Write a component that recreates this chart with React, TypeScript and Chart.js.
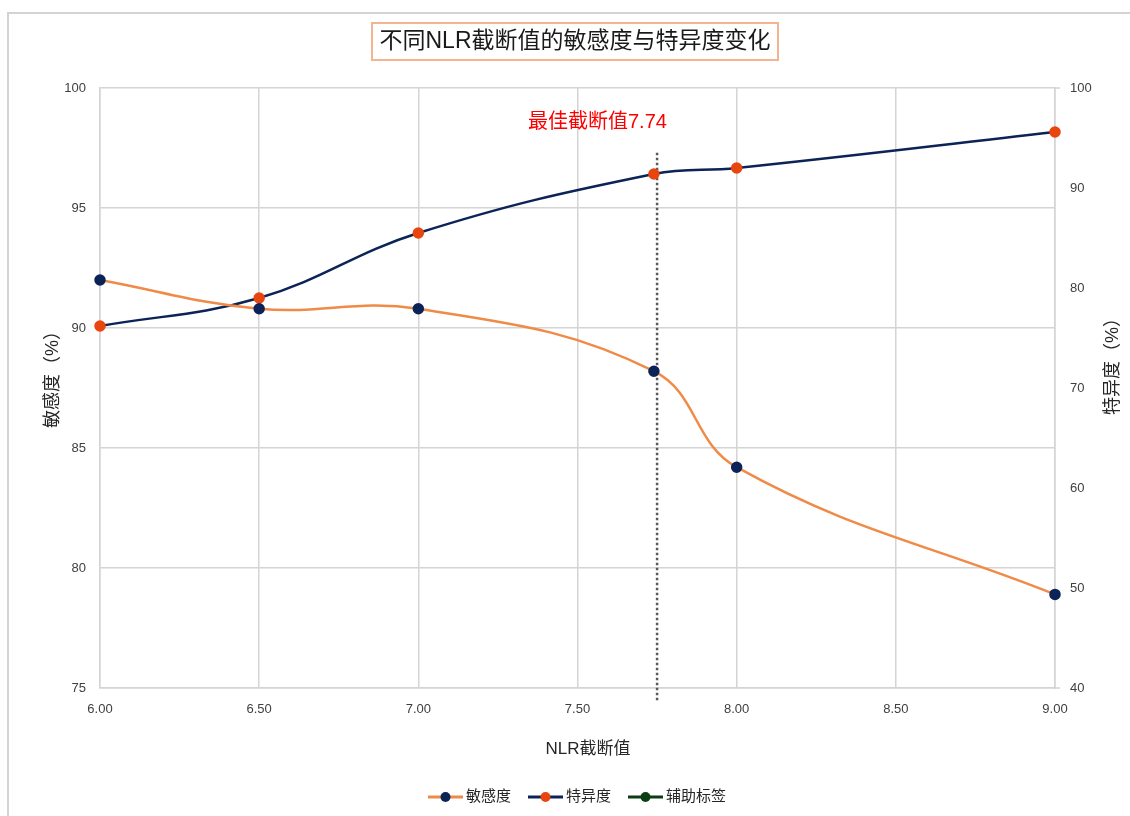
import React, { useEffect, useRef } from "react";
import { Chart, registerables } from "chart.js";

Chart.register(...registerables);

const titleText = "不同NLR截断值的敏感度与特异度变化";
const xAxisTitle = "NLR截断值";
const yAxisTitle = "敏感度（%）";
const y1AxisTitle = "特异度（%）";
const bestLabel = "最佳截断值7.74";

const nlrCutoffs = [6.0, 6.5, 7.0, 7.74, 8.0, 9.0];
const sensitivity = [92.0, 90.8, 90.8, 88.2, 84.2, 78.9];
const specificity = [76.2, 79.0, 85.5, 91.4, 92.0, 95.6];
const auxX = [7.75, 7.75];
const auxY = [97.3, 74.4];
const seriesNames = ["敏感度", "特异度", "辅助标签"];

const FONT = '"Liberation Sans", "Noto Sans CJK SC", sans-serif';
const ORANGE = "#ef8a47";
const NAVY = "#0c2357";
const RED_PT = "#e8460e";
const GREEN = "#0b3d12";
const GRID = "#d4d4d4";

export default function App() {
  const ref = useRef<HTMLCanvasElement | null>(null);

  useEffect(() => {
    document.body.style.margin = "0";
    const canvas = ref.current;
    if (!canvas) return;

    const decor = {
      id: "decor",
      beforeDraw(chart: any) {
        const c = chart.ctx;
        c.save();
        c.fillStyle = "#ffffff";
        c.fillRect(0, 0, chart.width, chart.height);
        c.restore();
      },
      afterDraw(chart: any) {
        const c = chart.ctx;
        const ca = chart.chartArea;
        c.save();
        // outer frame
        c.strokeStyle = "#d3d3d3";
        c.lineWidth = 2;
        c.beginPath();
        c.moveTo(8, 820);
        c.lineTo(8, 13);
        c.lineTo(1135, 13);
        c.stroke();

        // title box
        c.font = `23px ${FONT}`;
        c.fillStyle = "#1a1a1a";
        c.textAlign = "center";
        c.textBaseline = "middle";
        c.fillText(titleText, 575, 42);
        c.strokeStyle = "#f3b590";
        c.lineWidth = 2;
        c.strokeRect(372, 23, 406, 37);

        // best cutoff label
        c.font = `20px ${FONT}`;
        c.fillStyle = "#ff0000";
        c.textAlign = "left";
        c.fillText(bestLabel, 528, 122);

        // axis titles
        c.fillStyle = "#262626";
        c.font = `17px ${FONT}`;
        c.textAlign = "center";
        c.fillText(xAxisTitle, 588, 749);
        c.font = `18px ${FONT}`;
        c.save();
        c.translate(53, 375);
        c.rotate(-Math.PI / 2);
        c.fillText(yAxisTitle, 0, 0);
        c.restore();
        c.save();
        c.translate(1113, 362);
        c.rotate(-Math.PI / 2);
        c.fillText(y1AxisTitle, 0, 0);
        c.restore();

        // right axis outer ticks
        c.strokeStyle = GRID;
        c.lineWidth = 1.5;
        [ca.top, ca.bottom].forEach((yy: number) => {
          c.beginPath();
          c.moveTo(ca.right, yy);
          c.lineTo(ca.right + 5, yy);
          c.stroke();
        });

        // legend
        const lineColors = [ORANGE, NAVY, GREEN];
        const dotColors = [NAVY, RED_PT, GREEN];
        c.font = `15px ${FONT}`;
        c.textAlign = "left";
        c.textBaseline = "middle";
        let x = 428;
        const ly = 797;
        seriesNames.forEach((name, i) => {
          c.strokeStyle = lineColors[i];
          c.lineWidth = 3;
          c.beginPath();
          c.moveTo(x, ly);
          c.lineTo(x + 35, ly);
          c.stroke();
          c.fillStyle = dotColors[i];
          c.beginPath();
          c.arc(x + 17.5, ly, 5, 0, Math.PI * 2);
          c.fill();
          c.fillStyle = "#262626";
          c.fillText(name, x + 38, ly);
          x = x + 38 + c.measureText(name).width + 17;
        });
        c.restore();
      },
    };

    const chart = new Chart(canvas, {
      type: "line",
      data: {
        datasets: [
          {
            label: seriesNames[0],
            data: nlrCutoffs.map((v, i) => ({ x: v, y: sensitivity[i] })),
            yAxisID: "y",
            borderColor: ORANGE,
            backgroundColor: NAVY,
            pointBackgroundColor: NAVY,
            pointBorderColor: NAVY,
            pointRadius: 4.5,
            borderWidth: 2.5,
            tension: 0.4,
            fill: false,
            clip: 8,
          },
          {
            label: seriesNames[1],
            data: nlrCutoffs.map((v, i) => ({ x: v, y: specificity[i] })),
            yAxisID: "y1",
            borderColor: NAVY,
            backgroundColor: RED_PT,
            pointBackgroundColor: RED_PT,
            pointBorderColor: RED_PT,
            pointRadius: 4.5,
            borderWidth: 2.5,
            tension: 0.4,
            fill: false,
            clip: 8,
          },
          {
            label: seriesNames[2],
            data: auxX.map((v, i) => ({ x: v, y: auxY[i] })),
            yAxisID: "y",
            borderColor: "#5a5a5a",
            borderWidth: 2.5,
            borderDash: [2.5, 2.5],
            pointRadius: 0,
            tension: 0,
            fill: false,
            clip: false as any,
          },
        ],
      },
      options: {
        animation: false,
        responsive: false,
        layout: { padding: { top: 88, bottom: 0, left: 0, right: 0 } },
        plugins: {
          legend: { display: false },
          title: { display: false },
          tooltip: { enabled: false },
        },
        scales: {
          x: {
            type: "linear",
            min: 6,
            max: 9,
            afterFit: (s: any) => {
              s.height = 128;
            },
            ticks: {
              stepSize: 0.5,
              padding: 14,
              color: "#404040",
              font: { size: 13, family: FONT },
              callback: (v: any) => Number(v).toFixed(2),
              maxRotation: 0,
            },
            grid: { color: GRID, lineWidth: 1.5, drawTicks: false },
            border: { color: GRID, width: 1.5 },
          },
          y: {
            type: "linear",
            position: "left",
            min: 75,
            max: 100,
            afterFit: (s: any) => {
              s.width = 100;
            },
            ticks: {
              stepSize: 5,
              padding: 14,
              color: "#404040",
              font: { size: 13, family: FONT },
            },
            grid: { color: GRID, lineWidth: 1.5, drawTicks: false },
            border: { color: GRID, width: 1.5 },
          },
          y1: {
            type: "linear",
            position: "right",
            min: 40,
            max: 100,
            afterFit: (s: any) => {
              s.width = 75;
            },
            ticks: {
              stepSize: 10,
              padding: 15,
              color: "#404040",
              font: { size: 13, family: FONT },
            },
            grid: { drawOnChartArea: false, drawTicks: false },
            border: { color: GRID, width: 1.5 },
          },
        },
      },
      plugins: [decor],
    } as any);

    return () => chart.destroy();
  }, []);

  return (
    <div style={{ position: "absolute", left: 0, top: 0 }}>
      <canvas ref={ref} width={1130} height={816} />
    </div>
  );
}
